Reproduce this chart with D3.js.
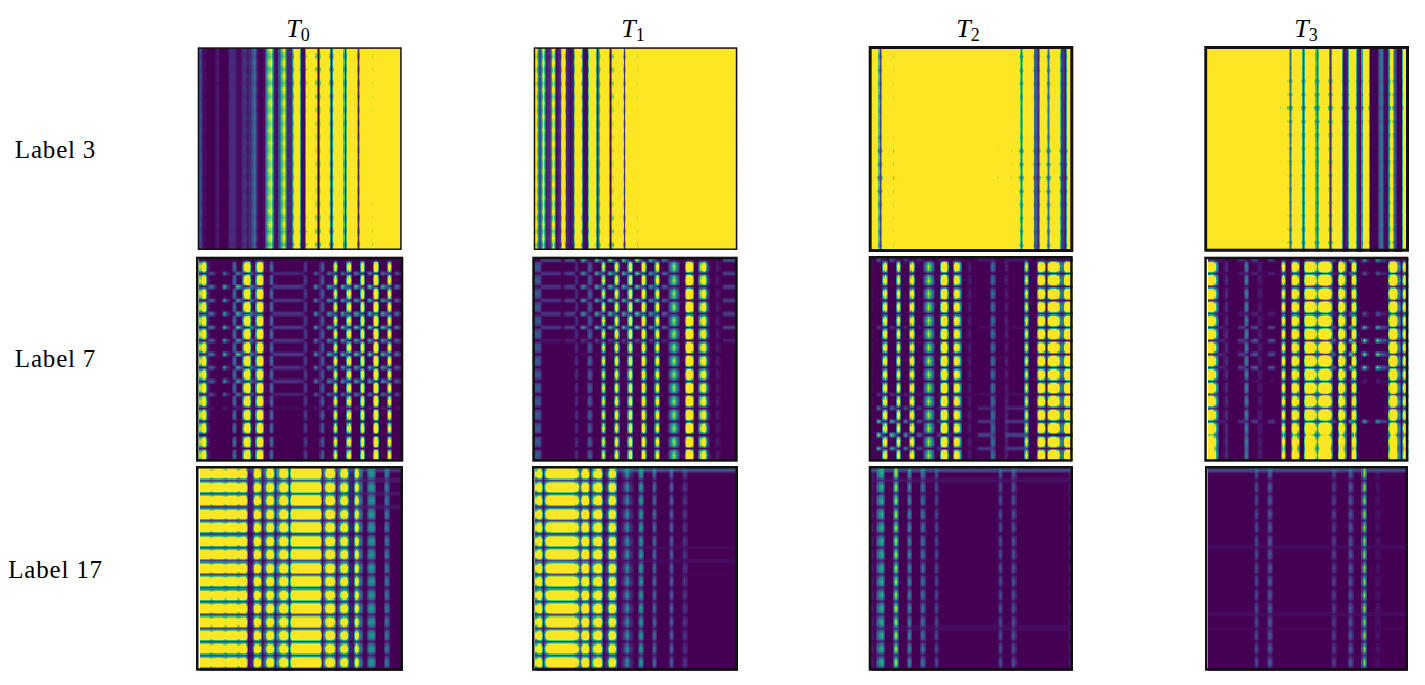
<!DOCTYPE html>
<html>
<head>
<meta charset="utf-8">
<script src="https://cdn.jsdelivr.net/npm/d3@7"></script>
<style>
  html, body { margin: 0; padding: 0; background: #fff; }
  svg { display: block; }
</style>
</head>
<body>
<div id="chart"></div>
<script>
// Labels
const titles = ["0", "1", "2", "3"];
const rowLabels = ["Label 3", "Label 7", "Label 17"];

// Column intensity, 60 columns per panel, 0-9 = viridis range (above 9 stays yellow)
const colsT0L3 = [
  2,.2,.1,.1,.1,.6,.1,.1,.1,1.1,
  1,.2,.2,1.4,.6,1,3.6,.4,.1,.3,
  6,8.5,.6,.2,6,8.5,1,1,9.5,12,
  .3,.3,12,14,11,.1,11,14,11,.1,
  11,15,13,.8,13,15,13,1.2,13,15,
  15,9.2,15,15,15,15,15,15,15,15];
const colsT1L3 = [
  9,2,9,.6,1.5,10,.2,1.5,14,1,
  .2,1,14,11,.2,.4,14,13,.2,9,
  15,13,.3,11,15,15,1.2,15,15,15,
  9.2,15,15,15,15,15,15,15,15,15,
  15,15,15,15,15,15,15,15,15,15,
  15,15,15,15,15,15,15,15,15,15];
const colsT2L3 = [
  12,12,1.8,12,15,15,9.2,15,15,15,
  12.5,15,15,15,15,15,15,15,15,15,
  15,15,15,15,15,15,13,15,15,15,
  12.5,15,15,15,15,15,15,11,15,15,
  15,10,15,11,3.5,11,15,15,3,1,
  12,11,3.5,11,15,12,2,.5,12,15];
const colsT3L3 = [
  15,15,15,15,15,15,13.5,15,15,15,
  13,15,15,13,15,15,15,11.5,15,15,
  15,10,15,11,3.5,11,15,11,2,11,
  15,11,3,11,15,11,1.2,11,15,12,
  .3,1,12,12,1,.2,12,12,.1,.1,
  .1,4,.2,.2,11,3,.1,.1,13,13];
const colsT0L7 = [
  7,11,1,0,0,0,0,0,0,0,
  3,0,0,8,12,.8,0,11,11,.3,
  0,3,0,0,0,0,0,0,0,0,
  0,1.5,0,0,0,0,2.5,0,0,0,
  9.5,0,0,0,10,0,0,0,11,0,
  0,0,12,0,0,0,10,0,0,0];
const colsT1L7 = [
  2,2,0,0,0,0,0,0,0,0,
  0,0,1,0,0,0,2.5,0,0,0,
  9,0,0,0,10,0,0,0,11,0,
  0,0,11,0,0,0,10,0,0,0,
  3,6.5,3,0,0,12,12,0,0,7,
  10,2,0,0,.6,0,0,0,0,0];
const colsT2L7 = [
  .3,0,0,0,10,0,0,0,10,0,
  0,0,10,0,0,0,3,7,3,0,
  0,11,12,0,0,10,7,0,0,.6,
  0,0,0,0,0,0,3,0,0,0,
  .8,0,0,0,0,0,9,0,0,0,
  11,10,0,11,13,11,3.5,3.5,13,13];
const colsT3L7 = [
  11,12,5,0,0,1,0,0,0,0,
  0,4,0,0,0,.6,0,0,0,0,
  0,0,10,0,0,11,10,0,0,13,
  13,11,4,11,14,14,9,0,0,14,
  8,0,0,11,0,0,0,0,0,0,
  0,0,0,0,14,14,6,0,10,5];
const colsT0L17 = [
  13,13,13,10.5,13,13,13,10.5,13,13,
  13,10,13,13,.3,1,12,12,.5,4,
  12,11,.5,8,13,13,.8,14,14,14,
  14,14,14,14,14,14,.5,10,13,11,
  .5,4,12,11,1,.5,12,5,.2,.2,
  4.5,4.5,.1,.1,.1,4,.1,.1,.1,.1];
const colsT1L17 = [
  9,13,.5,10,14,14,14,14,14,14,
  14,14,10,3,13,12,.5,8,13,12,
  .4,2,12,11,.3,.1,2,4.5,1,.1,
  .1,4.5,.1,.1,.1,3.5,.1,.1,.1,.1,
  3,.1,.1,.1,1.5,.1,.1,.1,.1,.1,
  .1,.1,.1,.1,.1,.1,.1,.1,.1,.1];
const colsT2L17 = [
  .6,.1,4.5,5.5,.1,.1,.1,7.5,.1,.1,
  .1,4.5,.1,.1,.1,3.5,.1,.1,.1,2,
  .1,.1,.1,.1,.1,.1,.1,.1,.1,.1,
  .1,.1,.1,.1,.1,.1,.1,.1,2.2,.1,
  .1,.1,2.6,.1,.1,.1,.1,.1,.1,.1,
  .1,.1,.1,.1,.1,.1,.1,.1,.1,.6];
const colsT3L17 = [
  .1,.1,.1,.1,.1,.1,.1,.1,.1,.1,
  .1,.1,.1,.1,2,.1,.1,.1,2.5,.1,
  .1,.1,.1,.1,.1,.1,.1,.1,.1,.1,
  .1,.1,.1,.1,.1,.1,.1,1.5,.1,.1,
  .1,.1,2.8,.1,.1,.1,7.5,.1,.1,.1,
  .5,.1,.1,.1,.1,.1,.1,.1,.1,.1];

// Row gain, 60 rows
const gainL3A = [
  1.1,1,.85,1, 1.1,1,.84,1, 1.1,1,.86,1, 1.1,1,.88,1, 1.1,1,.92,1,
  1.1,1,.94,1, 1.1,1,.96,1, 1.1,1,.96,1, 1.1,1,.94,1, 1.1,1,.95,1,
  1.1,1,.95,1, 1.1,1,.93,1, 1.1,1,.88,1, 1.1,1,.85,1, 1.1,1,.8,1];
const gainL3T2 = [
  1.05,1,.85,1, 1.05,1,.85,1, 1.05,1,.87,1, 1.05,1,.9,1, 1.05,1,.95,1,
  1.05,1,.97,1, 1.05,1,.9,1, 1.05,1,.8,1, 1.05,1,.8,1, 1.05,1,.72,1,
  1.05,1,.8,1, 1.05,1,.85,1, 1.05,1,.88,1, 1.05,1,.87,1, 1.05,1,.85,1];
const gainL3T3 = [
  1.05,.97,1,1, 1.05,.95,1,1, 1.05,.88,1,1, 1.05,.85,1,1, 1.05,.72,1,1,
  1.05,.85,1,1, 1.05,.88,1,1, 1.05,.9,1,1, 1.05,.9,1,1, 1.05,.9,1,1,
  1.05,.9,1,1, 1.05,.92,1,1, 1.05,.9,1,1, 1.05,.88,1,1, 1.05,.85,1,1];
const gainL7 = [
  .04,.95,1.2,1, .04,.95,1.2,1, .04,.95,1.2,1, .04,.95,1.2,1, .04,.95,1.2,1,
  .04,.95,1.2,1, .04,.95,1.2,1, .04,.95,1.2,1, .04,.95,1.2,1, .04,.95,1.2,1,
  .04,.95,1.2,1, .04,.95,1.2,1, .04,.95,1.2,1, .04,.95,1.2,1, .04,.95,1.2,1];
const gainL7T3 = [
  .1,.95,1.2,1, .1,.95,1.2,1, .1,.95,1.2,1, .1,.95,1.2,1, .1,.95,1.2,1,
  .1,.95,1.2,1, .1,.95,1.2,1, .1,.95,1.2,1, .1,.95,1.2,1, .1,.95,1.2,1,
  .2,.95,1.2,1, .15,.95,1.2,1, .15,.95,1.2,1, .65,1,1.2,1, .85,1,1.2,1];
const gainL17 = [
  .7,1.05,.9,.15, .7,1.05,.9,.15, .7,1.05,.9,.15, .7,1.05,.9,.15, .7,1.05,.9,.15,
  .7,1.05,.9,.15, .7,1.05,.9,.15, .7,1.05,.9,.15, .7,1.05,.9,.15, .7,1.05,.9,.15,
  .7,1.05,.9,.15, .7,1.05,.9,.15, .7,1.05,.9,.15, .7,1.05,.9,.15, .7,1.05,.9,.15];

// Thin horizontal streaks: which rows, how strong per row, and along which columns
const streakRowsL7 = [0,4,8,12,16,20,24,28,32,36,40,44,48,52,56];
const streakRowsL17 = [0,3,7,11,15,19,23,27,31,35,39,43,47,51,55];
const noStreakCols = [];

const streakColsT0L7 = [
  0,0,1,5,2,0,0,7,2,0,
  0,8,3,0,0,5,2,0,0,0,
  0,0,2,2,2,2,2,2,2,2,
  1.5,0,0,0,6,2,0,0,7,3,
  0,0,8,3,0,0,8,3,0,0,
  9,3,0,0,8,3,0,0,5,2];
const streakColsT1L7 = [
  0,0,2,2,2,2,2,2,0,2.5,
  2.5,2.5,0,0,7,2,0,0,8,3,
  0,0,8,3,0,0,8,3,0,0,
  9,3,0,0,7,3,0,0,4,2,
  0,0,0,0,0,0,0,0,0,0,
  0,0,0,0,0,0,2.5,2.5,2.5,2.5];
const streakColsT2L7 = [
  0,0,8,2,0,0,7,2,0,0,
  5,1,0,0,3,1,0,0,0,0,
  1.5,0,0,1,0,0,0,0,0,0,
  0,0,1.8,1.8,1.8,1.8,1.8,0,0,0,
  1.8,1.8,1.8,1.8,1.8,1.8,1.8,0,0,0,
  0,0,0,0,0,0,0,0,0,0];
const streakColsT3L7 = [
  0,0,0,1,1,0,0,0,0,2,
  2,0,0,3,3,0,0,0,2.5,2.5,
  0,0,0,0,0,0,0,0,0,0,
  0,0,0,0,0,0,0,3,0,0,
  0,0,8,0,0,0,9,2,0,0,
  9,3,3,1,0,0,0,0,0,0];
const streakColsT0L17 = [
  0,0,0,0,0,0,0,0,0,0,
  0,0,0,0,1.5,1.5,1.5,1.5,1.5,1.5,
  1.5,1.5,1.5,1.5,1.5,1.5,1.5,1.5,1.5,1.5,
  1.5,1.5,1.5,1.5,1.5,1.5,1.5,1.5,1.5,1.5,
  1.5,1.5,1.5,1.5,1.5,1.5,1.5,1.5,1.5,1.5,
  1.5,1.5,1.5,1.5,1.5,1.5,1.5,1.5,1.5,1.5];
const streakColsT1L17 = [
  0,0,0,0,0,0,0,0,0,0,
  0,0,0,0,0,0,0,0,0,0,
  0,0,0,0,2.2,2.2,2.2,2.2,2.2,2.2,
  2.2,2.2,2.2,2.2,2.2,2.2,2.2,2.2,2.2,2.2,
  2.2,2.2,2.2,2.2,2.2,2.2,2.2,2.2,2.2,2.2,
  2.2,2.2,2.2,2.2,2.2,2.2,2.2,2.2,2.2,2.2];
const streakColsFlatL17 = [
  2,2,2,2,2,2,2,2,2,2,
  2,2,2,2,2,2,2,2,2,2,
  2,2,2,2,2,2,2,2,2,2,
  2,2,2,2,2,2,2,2,2,2,
  2,2,2,2,2,2,2,2,2,2,
  2,2,2,2,2,2,2,2,2,2];

const ampsT0L7 = [0,.5,.9,.7,.8,.9,.7,.9,.7,.7,.45,.1,0,0,0];
const ampsT1L7 = [.9,.8,.8,.8,.8,.8,.25,.05,0,0,0,0,0,0,0];
const ampsT2L7 = [.3,0,0,0,0,.2,0,0,0,0,.2,.5,.9,1,.8];
const ampsT3L7 = [.5,.3,0,0,.3,.7,.9,.9,.9,.1,0,0,.6,0,0];
const ampsT0L17 = [.8,.4,.35,.3,.05,0,0,0,0,0,0,0,0,0,0];
const ampsT1L17 = [1,0,0,0,0,0,.08,.08,.05,0,0,0,0,0,0];
const ampsT2L17 = [1,.2,.05,0,0,0,0,0,0,0,0,0,.12,0,0];
const ampsT3L17 = [1,0,0,0,0,0,.1,0,0,0,0,.1,.06,0,0];

// One entry per picture, left to right, top to bottom
const panels = [
  {cols: colsT0L3, gain: gainL3A, sCols: noStreakCols, sRows: [], amps: []},
  {cols: colsT1L3, gain: gainL3A, sCols: noStreakCols, sRows: [], amps: []},
  {cols: colsT2L3, gain: gainL3T2, sCols: noStreakCols, sRows: [], amps: []},
  {cols: colsT3L3, gain: gainL3T3, sCols: noStreakCols, sRows: [], amps: []},
  {cols: colsT0L7, gain: gainL7, sCols: streakColsT0L7, sRows: streakRowsL7, amps: ampsT0L7},
  {cols: colsT1L7, gain: gainL7, sCols: streakColsT1L7, sRows: streakRowsL7, amps: ampsT1L7},
  {cols: colsT2L7, gain: gainL7, sCols: streakColsT2L7, sRows: streakRowsL7, amps: ampsT2L7},
  {cols: colsT3L7, gain: gainL7T3, sCols: streakColsT3L7, sRows: streakRowsL7, amps: ampsT3L7},
  {cols: colsT0L17, gain: gainL17, sCols: streakColsT0L17, sRows: streakRowsL17, amps: ampsT0L17},
  {cols: colsT1L17, gain: gainL17, sCols: streakColsT1L17, sRows: streakRowsL17, amps: ampsT1L17},
  {cols: colsT2L17, gain: gainL17, sCols: streakColsFlatL17, sRows: streakRowsL17, amps: ampsT2L17},
  {cols: colsT3L17, gain: gainL17, sCols: streakColsFlatL17, sRows: streakRowsL17, amps: ampsT3L17}
];

// Layout: image corner, frame box [left, right, top, bottom] and frame width of each panel
const imgX = [198.7, 535, 871.7, 1207.7, 199.3, 534.3, 870, 1207.7, 200, 535, 870.7, 1207.7];
const imgY = [47.7, 48, 48.3, 49, 258.3, 258.3, 258.3, 258.3, 468.3, 468.3, 468.3, 468.3];
const imgSize = 202;
const frames = [
  [197.7, 401.7, 47.3, 250, 1.5], [533.7, 737.3, 47.3, 250, 1.5], [868.7, 1073.3, 46, 252, 3], [1204.3, 1409, 46, 251.7, 3],
  [196, 403.3, 256.7, 461.7, 2.5], [532.3, 737.7, 256.7, 461.7, 2.5], [868.7, 1072.7, 256, 461.7, 2.5], [1204.3, 1408.3, 256.7, 461.7, 2.5],
  [196, 403, 466, 670.7, 2.5], [532, 738, 466, 670.7, 2.5], [868.7, 1073, 466, 670.7, 2.5], [1205, 1408, 466, 670.7, 2.5]
];

const titleX = [298, 633, 968, 1306];
const labelY = [158, 367, 578];

const svg = d3.select("#chart").append("svg")
  .attr("width", 1425)
  .attr("height", 685);

const defs = svg.append("defs");

const color = d3.scaleSequential(d3.interpolateViridis).domain([0, 9]).clamp(true);

const index = d3.range(60);
const sub = 3; // each cell is drawn as 3x3 steps, like imshow resampling
const steps = d3.range(60 * sub);

// cell value = column * row gain, plus the streak where that row has one
function cellValue(p, i, j) {
  const s = p.sRows.indexOf(j);
  let v = p.cols[i] * p.gain[j];
  if (s >= 0 && p.sCols.length) v += p.sCols[i] * p.amps[s];
  // saturated cells keep their edge sharp when resampled
  return v > 9 ? 9 + (v - 9) * 2 : v;
}

panels.forEach((p, n) => {
  const x = d3.scaleLinear().domain([0, 60]).range([imgX[n], imgX[n] + imgSize]);
  const y = d3.scaleLinear().domain([0, 60]).range([imgY[n], imgY[n] + imgSize]);

  const grid = index.map(j => index.map(i => cellValue(p, i, j)));

  // resample between cell centres, same colours in a row become one rect
  const at = u => {
    const t = Math.max(0, Math.min(59, (u + 0.5) / sub - 0.5));
    const a = Math.floor(t);
    return [a, Math.min(59, a + 1), t - a];
  };
  const runs = [];
  steps.forEach(vStep => {
    const [j0, j1, tj] = at(vStep);
    let start = 0, level = null;
    steps.forEach(uStep => {
      const [i0, i1, ti] = at(uStep);
      const top = grid[j0][i0] * (1 - ti) + grid[j0][i1] * ti;
      const bot = grid[j1][i0] * (1 - ti) + grid[j1][i1] * ti;
      const v = top * (1 - tj) + bot * tj;
      const l = Math.round(Math.min(v, 9) * 4) / 4;
      if (level === null) level = l;
      if (l !== level) {
        runs.push({u: start, len: uStep - start, row: vStep, v: level});
        start = uStep;
        level = l;
      }
    });
    runs.push({u: start, len: steps.length - start, row: vStep, v: level});
  });

  defs.append("clipPath").attr("id", "clip" + n)
    .append("rect")
    .attr("x", frames[n][0]).attr("y", frames[n][2])
    .attr("width", frames[n][1] - frames[n][0])
    .attr("height", frames[n][3] - frames[n][2]);

  const g = svg.append("g").attr("clip-path", `url(#clip${n})`)
    .attr("shape-rendering", "crispEdges");

  g.selectAll("rect")
    .data(runs)
    .enter().append("rect")
    .attr("x", d => x(d.u / sub))
    .attr("y", d => y(d.row / sub))
    .attr("width", d => x((d.u + d.len) / sub) - x(d.u / sub) + 0.5)
    .attr("height", y(1 / sub) - y(0) + 0.5)
    .attr("fill", d => color(d.v));

  const f = frames[n];
  svg.append("rect")
    .attr("x", f[0] + f[4] / 2)
    .attr("y", f[2] + f[4] / 2)
    .attr("width", f[1] - f[0] - f[4])
    .attr("height", f[3] - f[2] - f[4])
    .attr("fill", "none")
    .attr("stroke", "#111")
    .attr("stroke-width", f[4]);
});

// Column titles T with subscript
titles.forEach((t, i) => {
  const txt = svg.append("text")
    .attr("x", titleX[i])
    .attr("y", 37)
    .attr("text-anchor", "middle")
    .style("font-family", "'Liberation Serif', serif")
    .style("font-size", "26px")
    .style("fill", "#000");
  txt.append("tspan").style("font-style", "italic").text("T");
  txt.append("tspan").attr("dy", 4).style("font-size", "18px").text(t);
});

// Row labels
rowLabels.forEach((t, i) => {
  svg.append("text")
    .attr("x", 55.5)
    .attr("y", labelY[i])
    .attr("text-anchor", "middle")
    .style("font-family", "'Liberation Serif', serif")
    .style("font-size", "25px")
    .style("letter-spacing", "0.8px")
    .style("fill", "#000")
    .text(t);
});
</script>
</body>
</html>
